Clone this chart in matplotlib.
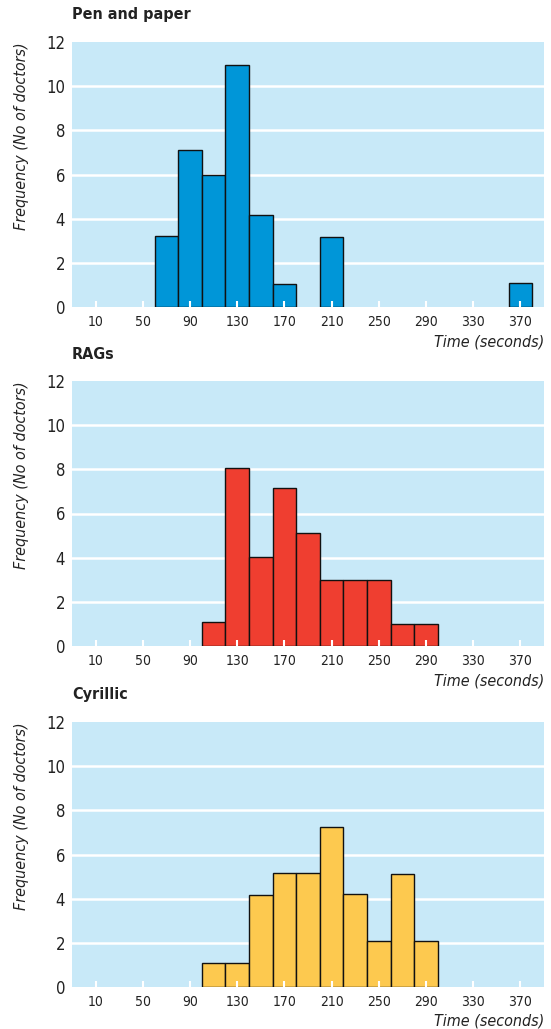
import matplotlib
matplotlib.use("Agg")
import matplotlib.pyplot as plt
from matplotlib import font_manager

# ---- data ----
tick_values = [10, 50, 90, 130, 170, 210, 250, 290, 330, 370]
tick_labels = ["10", "50", "90", "130", "170", "210", "250", "290", "330", "370"]

pen_title = "Pen and paper"
pen_centres = [70, 90, 110, 130, 150, 170, 210, 370]
pen_freq = [3.2, 7.1, 6.0, 10.95, 4.15, 1.05, 3.15, 1.1]

rags_title = "RAGs"
rags_centres = [110, 130, 150, 170, 190, 210, 230, 250, 270, 290]
rags_freq = [1.1, 8.05, 4.05, 7.15, 5.1, 3.0, 3.0, 3.0, 1.0, 1.0]

cyr_title = "Cyrillic"
cyr_centres = [110, 130, 150, 170, 190, 210, 230, 250, 270, 290]
cyr_freq = [1.1, 1.1, 4.15, 5.15, 5.15, 7.25, 4.2, 2.1, 5.1, 2.1]

# ---- fonts ----
names = {f.name for f in font_manager.fontManager.ttflist}
base = "Liberation Sans Narrow" if "Liberation Sans Narrow" in names else "DejaVu Sans"
plt.rcParams["font.family"] = [base, "DejaVu Sans"]
plt.rcParams["font.stretch"] = "condensed"

BG = "#C8E9F8"
panels = [
    (pen_title, pen_centres, pen_freq, "#0096D8", 307),
    (rags_title, rags_centres, rags_freq, "#EF3E30", 646),
    (cyr_title, cyr_centres, cyr_freq, "#FDC94F", 987),
]

W, H = 551, 1029
fig = plt.figure(figsize=(W / 100, H / 100), dpi=100)

for title, centres, freq, color, ybot in panels:
    left, right = 72, 544
    top = ybot - 265
    ax = fig.add_axes([left / W, 1 - ybot / H, (right - left) / W, (ybot - top) / H])
    ax.set_facecolor(BG)
    for s in ax.spines.values():
        s.set_visible(False)
    ax.set_xlim(-10, 390)
    ax.set_ylim(0, 12)
    ax.set_yticks([0, 2, 4, 6, 8, 10, 12])
    ax.set_yticklabels(["0", "2", "4", "6", "8", "10", "12"], fontsize=12)
    ax.tick_params(axis="y", length=0, pad=5, labelcolor="#222222")
    for yv in [2, 4, 6, 8, 10]:
        ax.axhline(yv, color="white", lw=1.8, zorder=1)
    ax.bar(centres, freq, width=20, color=color, edgecolor="#111111",
           linewidth=1.0, zorder=2)
    ax.set_xticks(tick_values)
    ax.set_xticklabels(tick_labels, fontsize=10)
    ax.tick_params(axis="x", direction="in", length=4, width=1.5,
                   color="white", pad=6, labelcolor="#222222")
    ax.set_axisbelow(False)
    ax.set_ylabel("Frequency (No of doctors)", fontsize=11.5, style="italic",
                  labelpad=12, color="#222222", loc="top")
    ax.annotate("Time (seconds)", xy=(1.0, 0.0), xycoords="axes fraction",
                xytext=(0, -27), textcoords="offset pixels",
                ha="right", va="top", fontsize=11.5, style="italic",
                color="#222222")
    fig.text(72 / W, 1 - (top - 27) / H, title, fontsize=11.5,
             fontweight="bold", ha="left", va="center", color="#222222")

fig.savefig("out.png", dpi=100)
